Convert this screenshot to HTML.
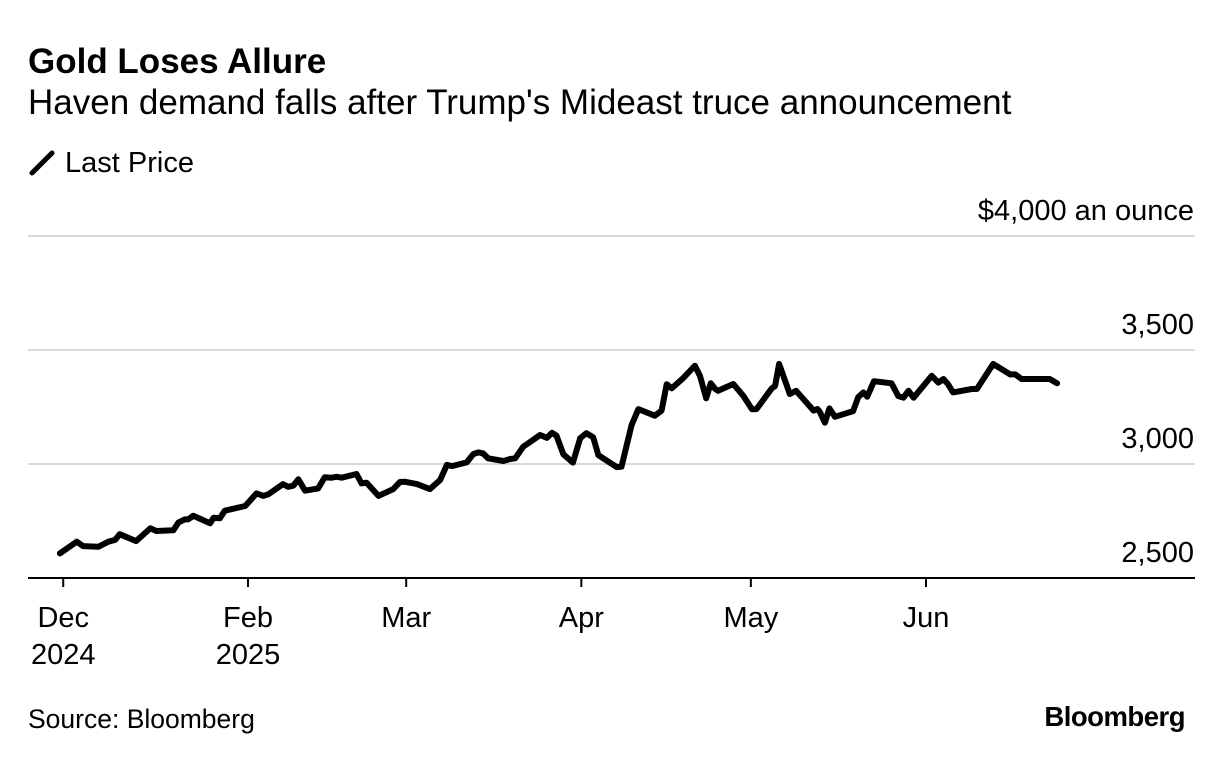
<!DOCTYPE html>
<html><head><meta charset="utf-8"><style>
html,body{margin:0;padding:0;background:#fff;}
svg{display:block;font-family:"Liberation Sans",Arial,sans-serif;}
</style></head><body>
<svg id="chart" width="1223" height="760" viewBox="0 0 1223 760">
<text x="28" y="73" font-size="35" font-weight="bold" fill="#000">Gold Loses Allure</text>
<text x="28" y="114" font-size="35" fill="#000">Haven demand falls after Trump's Mideast truce announcement</text>
<g>
<line x1="32" y1="173" x2="52" y2="153" stroke="#000" stroke-width="5" stroke-linecap="round"/>
<text x="65" y="172" font-size="29" fill="#000">Last Price</text>
</g>
<g id="grid"></g>
<g id="yticks"></g>
<g id="xticks"></g>
<path id="line" fill="none" stroke="#000" stroke-width="6" stroke-linejoin="round" stroke-linecap="round"/>
<text x="28" y="728" font-size="26.5" fill="#000">Source: Bloomberg</text>
<text x="1185" y="726" font-size="27.5" font-weight="bold" fill="#000" text-anchor="end" letter-spacing="-0.5">Bloomberg</text>
</svg>
<script>
// days since Jan 1, 2025
const days = [-2.3,0.7,1.8,4.5,6.3,7.5,8.3,11.2,13.7,14.8,17.8,18.7,19.8,20.4,21.3,24.3,24.9,26,26.9,30.5,32.5,33.7,34.6,37.2,38.1,39,39.9,41.1,43.4,44.6,45.8,46.7,47.6,50.2,51.1,52,54.1,56.7,57.9,58.8,60.9,63.2,65,66.2,67.1,69.7,70.9,71.8,72.6,73.5,76.2,77.4,78.3,79.7,80.6,82.7,83.9,84.8,85.6,86.8,88.5,89.8,90.9,92.1,93,96.3,97.1,98.9,100.1,103,104.2,105.1,106,108,110.1,111,112.1,112.9,113.7,114.2,116.9,118.7,120.2,121,123.7,124.3,125,126.9,128,131.1,131.8,132.2,133.1,133.9,134.9,138.1,139,139.9,140.6,141.8,144.9,146.1,147,147.9,148.8,152,153.2,154.1,154.9,155.8,159.1,160,162.9,165.9,166.8,167.9,172.9,174.2];
const prices = [2608,2659,2640,2637,2659,2667,2692,2662,2718,2706,2709,2744,2757,2757,2773,2740,2764,2762,2795,2816,2871,2860,2867,2912,2900,2905,2933,2883,2893,2942,2940,2944,2940,2956,2915,2918,2860,2890,2921,2922,2912,2890,2930,2996,2991,3007,3044,3051,3047,3025,3013,3022,3025,3076,3091,3127,3115,3137,3124,3043,3006,3113,3135,3117,3039,2986,2988,3171,3241,3212,3234,3350,3332,3376,3431,3386,3288,3354,3329,3321,3351,3298,3240,3241,3332,3342,3439,3307,3321,3234,3241,3229,3181,3244,3207,3232,3293,3314,3295,3363,3354,3298,3291,3321,3291,3387,3357,3373,3350,3314,3329,3329,3439,3393,3393,3373,3373,3354];
const yTicks = [2500,3000,3500,4000];
const yTickLabels = ["2,500","3,000","3,500","$4,000 an ounce"];
const xTickDays = [-1.7,31,59,90,120,151];
const xTickLabels = [["Dec","2024"],["Feb","2025"],["Mar",""],["Apr",""],["May",""],["Jun",""]];

const NS="http://www.w3.org/2000/svg";
const xS = d => 248 + (d-31)*5.65;
const yS = p => 464 - (p-3000)*0.228;
const grid=document.getElementById('grid'), yt=document.getElementById('yticks'), xt=document.getElementById('xticks');
yTicks.forEach((v,i)=>{
  const y=yS(v);
  const l=document.createElementNS(NS,'line');
  l.setAttribute('x1',28);l.setAttribute('x2',1195);l.setAttribute('y1',y);l.setAttribute('y2',y);
  l.setAttribute('stroke', i===0?'#000':'#d9d9d9');l.setAttribute('stroke-width',2);
  
  
  grid.appendChild(l);
  const t=document.createElementNS(NS,'text');
  t.setAttribute('x',1194);t.setAttribute('y',y-16);t.setAttribute('text-anchor','end');t.setAttribute('font-size','29');
  t.textContent=yTickLabels[i];
  
  
  yt.appendChild(t);
});
xTickDays.forEach((d,i)=>{
  const x=xS(d);
  const l=document.createElementNS(NS,'line');
  l.setAttribute('x1',x);l.setAttribute('x2',x);l.setAttribute('y1',577);l.setAttribute('y2',587);
  l.setAttribute('stroke','#000');l.setAttribute('stroke-width',2);
  
  
  xt.appendChild(l);
  xTickLabels[i].forEach((s,j)=>{
    if(!s) return;
    const t=document.createElementNS(NS,'text');
    t.setAttribute('x',x);t.setAttribute('y',627+j*37);t.setAttribute('text-anchor','middle');t.setAttribute('font-size','29');
    t.textContent=s;
    
    
    xt.appendChild(t);
  });
});
document.getElementById('line').setAttribute('d', days.map((d,i)=>(i?'L':'M')+xS(d).toFixed(1)+','+yS(prices[i]).toFixed(1)).join(' '));
</script>
</body></html>
